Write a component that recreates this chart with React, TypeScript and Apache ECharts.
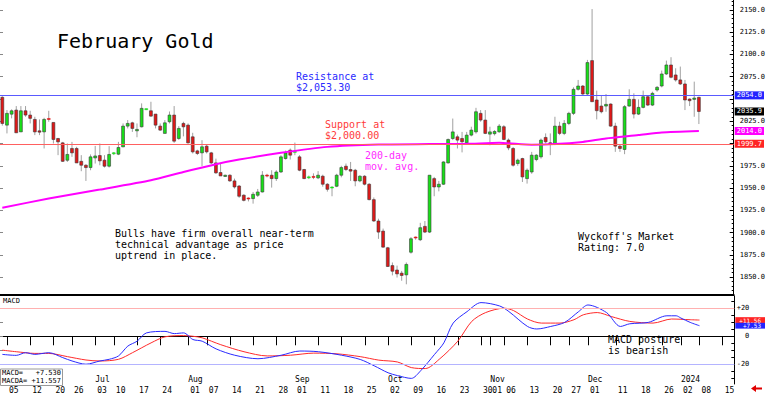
import React, { useEffect, useRef } from 'react';
import * as echarts from 'echarts';

const FONT = '"DejaVu Sans Mono", monospace';

const HOLIDAYS = ['2023-06-19', '2023-07-04', '2023-09-04', '2023-11-23', '2023-12-25', '2024-01-01'];

function buildDates(): string[] {
  const out: string[] = [];
  const d = new Date(Date.UTC(2023, 5, 2));
  const end = Date.UTC(2024, 0, 17);
  while (d.getTime() <= end) {
    const wd = d.getUTCDay();
    const s = d.toISOString().slice(0, 10);
    if (wd !== 0 && wd !== 6 && HOLIDAYS.indexOf(s) < 0) out.push(s);
    d.setUTCDate(d.getUTCDate() + 1);
  }
  return out;
}
const dates = buildDates();

const dayLabels = [
  '2023-06-05', '2023-06-12', '2023-06-20', '2023-06-26', '2023-07-03', '2023-07-10', '2023-07-17', '2023-07-24',
  '2023-08-01', '2023-08-07', '2023-08-14', '2023-08-21', '2023-08-28', '2023-09-01', '2023-09-11', '2023-09-18',
  '2023-09-25', '2023-10-02', '2023-10-09', '2023-10-16', '2023-10-23', '2023-10-30', '2023-11-01', '2023-11-06',
  '2023-11-13', '2023-11-20', '2023-11-27', '2023-12-01', '2023-12-11', '2023-12-18', '2023-12-26', '2024-01-02',
  '2024-01-08', '2024-01-15',
];
const monthLabels: Record<string, string> = {
  '2023-07-03': 'Jul', '2023-08-01': 'Aug', '2023-09-01': 'Sep', '2023-10-02': 'Oct',
  '2023-11-01': 'Nov', '2023-12-01': 'Dec', '2024-01-02': '2024',
};

const opens = [
  2051.8, 2020.6, 2032.9, 2037.5, 2013.0, 2036.7, 2031.9, 2027.0, 2014.2, 2013.0,
  2027.5, 2023.6, 2005.6, 2000.7, 1981.2, 1994.4, 1994.4, 1980.0, 1975.6, 1973.0,
  1983.8, 1986.5, 1981.3, 1974.5, 1988.5, 1988.0, 1996.2, 2019.5, 2023.2, 2014.2,
  2018.7, 2038.0, 2036.7, 2033.0, 2019.5, 2011.3, 2024.4, 2031.9, 2005.6, 2022.5,
  2020.6, 2007.5, 1991.7, 1989.5, 1997.0, 1989.5, 1978.2, 1967.4, 1963.0, 1964.4,
  1958.0, 1952.3, 1942.0, 1938.3, 1938.2, 1941.9, 1945.6, 1964.0, 1964.4, 1960.6,
  1968.0, 1983.1, 1992.5, 1990.0, 1985.0, 1970.8, 1961.4, 1962.5, 1961.4, 1963.3,
  1954.3, 1950.0, 1952.0, 1964.4, 1974.5, 1970.8, 1970.0, 1958.0, 1963.3, 1954.3,
  1937.0, 1913.0, 1901.7, 1883.0, 1863.0, 1858.0, 1854.5, 1852.6, 1878.0, 1894.5,
  1892.0, 1907.0, 1900.6, 1960.6, 1951.2, 1954.3, 1978.2, 2005.6, 2007.5, 2005.6,
  2000.8, 2009.4, 2013.0, 2033.8, 2026.3, 2010.5, 2011.0, 2013.1, 2018.8, 2003.8,
  1994.4, 1977.5, 1983.1, 1960.6, 1968.0, 1982.0, 1985.0, 2006.8, 2000.8, 1998.9,
  2019.5, 2011.3, 2022.5, 2033.8, 2060.8, 2064.5, 2055.5, 2093.0, 2048.8, 2042.0,
  2042.0, 2044.3, 2019.5, 1997.0, 1993.3, 2042.0, 2049.5, 2033.0, 2040.5, 2052.5,
  2043.1, 2060.0, 2064.5, 2078.0, 2088.1, 2076.9, 2071.3, 2066.8, 2049.9, 2049.5,
  2051.8,
];
const closes = [
  2022.5, 2033.8, 2036.7, 2012.0, 2036.7, 2031.9, 2028.2, 2013.0, 2012.7, 2027.0,
  2026.5, 2004.5, 2001.8, 1980.0, 1987.7, 1989.5, 1978.2, 1975.6, 1973.0, 1985.0,
  1986.0, 1980.5, 1974.5, 1987.7, 1989.0, 1995.5, 2019.5, 2022.5, 2016.9, 2015.8,
  2039.4, 2038.5, 2030.7, 2020.6, 2015.0, 2023.2, 2031.9, 2002.6, 2016.9, 2018.7,
  2000.7, 1990.6, 1988.8, 1996.3, 1990.6, 1978.2, 1967.0, 1963.6, 1964.4, 1958.0,
  1951.2, 1940.8, 1936.2, 1937.7, 1943.0, 1945.6, 1964.4, 1963.6, 1960.6, 1968.0,
  1985.0, 1989.5, 1986.9, 1990.6, 1970.0, 1960.6, 1962.0, 1962.0, 1964.4, 1954.3,
  1948.6, 1950.6, 1964.4, 1973.0, 1970.8, 1969.0, 1958.0, 1963.3, 1954.3, 1937.0,
  1913.0, 1900.6, 1883.7, 1862.0, 1856.7, 1853.7, 1851.9, 1864.3, 1893.1, 1894.0,
  1905.5, 1900.6, 1964.4, 1951.2, 1954.3, 1979.3, 2004.5, 2013.0, 2003.8, 2001.9,
  2009.4, 2015.0, 2035.6, 2026.3, 2011.3, 2013.0, 2013.5, 2019.5, 2004.5, 1995.1,
  1975.6, 1981.3, 1962.5, 1970.0, 1986.9, 1986.9, 2003.8, 2001.9, 1999.3, 2019.5,
  2011.3, 2022.5, 2033.8, 2060.8, 2064.5, 2055.5, 2090.8, 2046.9, 2036.8, 2035.6,
  2043.9, 2019.5, 1997.0, 1994.4, 2041.3, 2049.5, 2033.0, 2040.5, 2052.5, 2043.1,
  2056.3, 2063.0, 2078.0, 2088.1, 2074.3, 2071.3, 2066.8, 2048.8, 2048.0, 2051.0,
  2035.9,
];
const lows = [
  2020.0, 2011.3, 2028.2, 2012.0, 2013.0, 2030.0, 2022.5, 2009.4, 2009.4, 1994.4,
  2024.4, 2000.0, 1986.9, 1979.3, 1979.3, 1985.0, 1978.2, 1968.9, 1958.0, 1970.0,
  1977.5, 1975.6, 1973.0, 1973.0, 1987.0, 1986.9, 1996.0, 2016.9, 2013.0, 2007.0,
  2018.0, 2037.5, 2030.0, 2016.9, 2014.2, 2011.3, 2022.5, 2000.7, 2004.0, 2008.0,
  2000.0, 1988.8, 1987.0, 1974.5, 1988.8, 1977.0, 1966.0, 1963.6, 1962.6, 1957.0,
  1949.4, 1939.0, 1935.0, 1935.0, 1932.5, 1940.0, 1945.0, 1962.0, 1950.5, 1958.0,
  1967.0, 1982.0, 1982.0, 1986.9, 1968.9, 1960.0, 1960.0, 1960.0, 1960.0, 1951.5,
  1946.0, 1940.8, 1951.0, 1962.0, 1969.0, 1958.0, 1952.0, 1956.5, 1953.0, 1936.2,
  1912.0, 1893.0, 1883.0, 1861.4, 1852.0, 1849.6, 1846.0, 1842.0, 1876.4, 1892.0,
  1890.5, 1899.5, 1899.5, 1940.8, 1946.3, 1953.5, 1977.5, 2003.8, 1994.4, 1990.0,
  1999.0, 2008.0, 2011.0, 2024.4, 2010.5, 1998.0, 2009.0, 2012.0, 2003.8, 1992.5,
  1974.0, 1975.0, 1956.8, 1955.0, 1966.0, 1980.0, 1983.0, 2000.0, 1986.9, 1998.1,
  2009.4, 2009.4, 2020.6, 2031.9, 2059.3, 2054.4, 2054.4, 2046.9, 2027.0, 2033.8,
  2035.6, 2018.8, 1990.6, 1990.6, 1988.0, 2041.3, 2028.1, 2031.9, 2039.4, 2042.0,
  2042.0, 2058.1, 2063.0, 2076.9, 2073.1, 2069.4, 2065.6, 2037.5, 2042.0, 2030.0,
  2021.8,
];
const highs = [
  2053.0, 2037.5, 2038.3, 2042.0, 2042.0, 2042.0, 2036.7, 2030.0, 2027.0, 2028.8,
  2036.7, 2023.6, 2006.3, 2001.8, 2000.0, 2001.8, 1996.3, 1986.9, 1976.8, 1987.7,
  1997.3, 2000.0, 1986.9, 1997.0, 1990.5, 2001.8, 2022.5, 2026.3, 2024.4, 2022.5,
  2045.0, 2039.0, 2046.8, 2033.0, 2022.5, 2026.3, 2035.9, 2042.0, 2019.5, 2024.4,
  2022.5, 2012.0, 1993.0, 2003.7, 1998.9, 1990.6, 1983.0, 1977.5, 1965.0, 1965.5,
  1960.6, 1953.4, 1943.0, 1939.5, 1945.6, 1949.0, 1969.0, 1966.0, 1970.0, 1970.0,
  1986.9, 1992.0, 1994.4, 2001.0, 1986.9, 1971.5, 1964.0, 1966.5, 1969.0, 1965.0,
  1955.5, 1952.0, 1966.0, 1975.0, 1977.5, 1979.3, 1971.5, 1964.4, 1964.4, 1955.5,
  1939.4, 1915.6, 1904.5, 1884.0, 1866.5, 1863.0, 1857.0, 1866.5, 1895.0, 1895.6,
  1911.0, 1913.0, 1964.4, 1962.5, 1958.0, 1980.0, 2005.6, 2028.0, 2010.0, 2013.0,
  2013.0, 2018.8, 2040.0, 2037.5, 2037.5, 2018.8, 2015.0, 2021.8, 2020.6, 2005.6,
  1996.0, 1983.0, 1984.0, 1972.0, 1990.6, 1988.0, 2005.6, 2011.3, 2011.3, 2030.0,
  2024.4, 2026.3, 2035.6, 2063.0, 2071.3, 2065.6, 2093.8, 2150.8, 2059.3, 2054.4,
  2055.5, 2045.0, 2023.3, 1999.3, 2043.1, 2060.8, 2056.3, 2049.5, 2059.3, 2054.4,
  2058.1, 2064.5, 2081.8, 2093.0, 2096.8, 2084.4, 2086.3, 2071.3, 2050.6, 2069.4,
  2052.5,
];

// 200-day moving average, [candle index, value]
const ma200 = [
  [0, 1928.0], [10, 1938.2], [21, 1948.3], [32, 1958.8], [39, 1968.1], [46, 1976.8], [51, 1982.0],
  [60, 1989.5], [70, 1996.2], [81, 1998.9], [92, 1999.3], [100, 1999.6], [107, 2000.7], [114, 1998.7],
  [119, 1999.3], [125, 2001.8], [130, 2005.6], [137, 2009.4], [142, 2012.4], [150, 2014.0],
];

// MACD (blue) and its average (red), [candle index, value]
const macdLine = [
  [0, -12.9], [3, -13.6], [5, -11.7], [7, -12.9], [10, -11.7], [13, -15.2], [15, -17.6], [18, -19.9],
  [21, -17.6], [23, -16.4], [25, -14.0], [27, -7.0], [29, -3.5], [31, 2.4], [35, 3.5], [37, 1.9],
  [39, 2.4], [41, -2.3], [43, -3.5], [46, -9.0], [50, -13.5], [55, -16.0], [60, -13.5], [64, -10.5],
  [68, -11.0], [73, -13.5], [77, -16.5], [80, -21.0], [83, -26.0], [85, -28.0], [88, -30.0], [90, -24.6],
  [93, -12.9], [95, -4.7], [97, 9.4], [100, 17.6], [103, 24.0], [107, 21.6], [109, 17.6], [113, 7.0],
  [115, 5.2], [118, 7.0], [121, 9.9], [124, 17.6], [126, 22.3], [130, 16.9], [133, 7.0], [135, 8.9],
  [139, 9.9], [143, 14.6], [145, 14.6], [146, 13.0], [148, 9.9], [150, 7.53],
];
const macdAvg = [
  [0, -9.9], [3, -11.0], [7, -12.2], [10, -12.2], [14, -14.5], [18, -16.9], [21, -17.6], [25, -16.4],
  [28, -11.7], [32, -4.7], [35, -0.4], [39, 0.5], [41, 0.0], [43, -1.1], [47, -6.0], [52, -11.0],
  [57, -14.0], [62, -13.5], [67, -12.0], [72, -12.5], [77, -14.5], [81, -17.0], [85, -18.3], [88, -22.3],
  [91, -23.0], [94, -16.4], [98, -3.5], [101, 10.6], [104, 16.9], [108, 20.0], [110, 18.3], [113, 12.3],
  [116, 9.4], [120, 9.4], [123, 11.8], [125, 15.3], [128, 16.9], [131, 14.1], [135, 10.6], [140, 9.4],
  [144, 12.3], [148, 11.8], [150, 11.56],
];

const resistance = 2054.0;
const support = 1999.7;
const priceTicks = [1850, 1875, 1900, 1925, 1950, 1975, 2000, 2025, 2050, 2075, 2100, 2125, 2150];
const priceLabels = [1850, 1875, 1900, 1925, 1950, 1975, 2025, 2075, 2100, 2125, 2150];
const priceMinor: number[] = [];
for (let v = 1835; v <= 2160; v += 5) priceMinor.push(v);
const macdTicks = [-20, 0, 20];
const macdMinor: number[] = [];
for (let v = -30; v <= 25; v += 5) macdMinor.push(v);

const priceTagValues = [resistance, closes[closes.length - 1], 2014.0, support];
const priceTagColors = ['#2424ff', '#000000', '#ff00ff', '#ff2424'];
const macdTagValues = [11.557, 7.53];
const macdTagColors = ['#ff2424', '#2424ff'];

export default function App() {
  const ref = useRef<HTMLDivElement>(null);
  useEffect(() => {
    if (!ref.current) return;
    const chart = echarts.init(ref.current, null, { renderer: 'svg' });
    const candleData = opens.map((o, i) => [i, o, closes[i], lows[i], highs[i]]);
    const dayInterval = (_i: number, v: string) => dayLabels.indexOf(v) >= 0;
    const monthInterval = (_i: number, v: string) => !!monthLabels[v];

    const tagAxis = (grid: number, min: number, max: number, value: number, color: string, text: string,
      fs: number, lh: number, pad: number[]) => ({
      type: 'value', gridIndex: grid, position: 'right', min, max,
      axisLine: { show: false }, axisTick: { show: false }, splitLine: { show: false },
      axisLabel: {
        show: true, customValues: [value], margin: 1, formatter: () => text,
        backgroundColor: color, color: '#fff', padding: pad, lineHeight: lh, fontSize: fs, fontFamily: FONT,
      },
    });

    const yAxes: any[] = [
      {
        type: 'value', gridIndex: 0, position: 'right', min: 1830, max: 2161,
        axisLine: { show: true, lineStyle: { color: '#000' } },
        axisTick: { show: true, inside: true, length: 4, customValues: priceTicks, lineStyle: { color: '#000' } },
        axisLabel: {
          show: true, customValues: priceLabels, formatter: (v: number) => v.toFixed(1),
          margin: 6, fontSize: 7, fontFamily: FONT, color: '#000',
        },
        splitLine: { show: false },
      },
      {
        type: 'value', gridIndex: 0, position: 'right', min: 1830, max: 2161,
        axisLine: { show: false },
        axisTick: { show: true, inside: true, length: 2, customValues: priceMinor, lineStyle: { color: '#000' } },
        axisLabel: { show: false }, splitLine: { show: false },
      },
      {
        type: 'value', gridIndex: 0, position: 'left', min: 1830, max: 2161,
        axisLine: { show: false },
        axisTick: { show: true, inside: true, length: 3, customValues: priceTicks, lineStyle: { color: '#888' } },
        axisLabel: { show: false }, splitLine: { show: false },
      },
      {
        type: 'value', gridIndex: 1, position: 'right', min: -34, max: 28.7,
        axisLine: { show: true, lineStyle: { color: '#000' } },
        axisTick: { show: true, inside: true, length: 3, customValues: macdMinor, lineStyle: { color: '#000' } },
        axisLabel: {
          show: true, customValues: macdTicks, align: 'right', margin: 15,
          formatter: (v: number) => (v > 0 ? '+' + v : '' + v),
          fontSize: 7, fontFamily: FONT, color: '#000',
        },
        splitLine: { show: false },
      },
      {
        type: 'value', gridIndex: 1, position: 'left', min: -34, max: 28.7,
        axisLine: { show: false },
        axisTick: { show: true, inside: true, length: 3, customValues: [-30, -20, -10, 0, 10, 20], lineStyle: { color: '#888' } },
        axisLabel: { show: false }, splitLine: { show: false },
      },
    ];
    priceTagValues.forEach((v, k) => {
      yAxes.push(tagAxis(0, 1830, 2161, v, priceTagColors[k], v.toFixed(1).padStart(6, ' '), 7, 7, [1, 2, 0, 2]));
    });
    macdTagValues.forEach((v, k) => {
      yAxes.push(tagAxis(1, -34, 28.7, v, macdTagColors[k], ('+' + v.toFixed(2)).padStart(6, ' '), 6, 5.8, [0, 4, 0, 4]));
    });

    const option: any = {
      animation: false,
      backgroundColor: '#ffffff',
      grid: [
        { left: 0, top: 0, width: 735, height: 295 },
        { left: 0, top: 296, width: 735, height: 89 },
      ],
      xAxis: [
        {
          type: 'category', gridIndex: 0, data: dates, boundaryGap: true,
          axisLine: { show: true, lineStyle: { color: '#000', width: 2 } },
          axisTick: { show: false }, axisLabel: { show: false }, splitLine: { show: false },
        },
        {
          type: 'category', gridIndex: 1, data: dates, boundaryGap: true, position: 'bottom',
          axisLine: { show: true, lineStyle: { color: '#000', width: 1 } },
          axisTick: { show: true, alignWithLabel: true, interval: dayInterval, length: 9, lineStyle: { color: '#000' } },
          axisLabel: {
            show: true, interval: dayInterval, formatter: (v: string) => v.slice(8, 10),
            align: 'left', margin: 2, padding: [0, 0, 0, 2], fontSize: 8, fontFamily: FONT, color: '#000',
          },
          splitLine: { show: false },
        },
        {
          type: 'category', gridIndex: 1, data: dates, boundaryGap: true, position: 'bottom',
          axisLine: { show: false }, axisTick: { show: false },
          axisLabel: {
            show: true, inside: true, interval: monthInterval, formatter: (v: string) => monthLabels[v] || '',
            align: 'left', margin: 1, fontSize: 8, fontFamily: FONT, color: '#000',
          },
          splitLine: { show: false },
        },
      ],
      yAxis: yAxes,
      series: [
        {
          type: 'line', xAxisIndex: 0, yAxisIndex: 0, data: [], silent: true,
          markLine: {
            silent: true, symbol: 'none', label: { show: false },
            data: [
              { yAxis: resistance, lineStyle: { color: '#5a5aff', width: 1, type: 'solid' } },
              { yAxis: support, lineStyle: { color: '#ff6060', width: 1, type: 'solid' } },
            ],
          },
        },
        {
          type: 'custom', xAxisIndex: 0, yAxisIndex: 0, data: candleData,
          encode: { x: 0, y: [1, 2, 3, 4] },
          renderItem: (_p: any, api: any) => {
            const idx = api.value(0);
            const o = api.value(1), c = api.value(2), l = api.value(3), h = api.value(4);
            const po = api.coord([idx, o]);
            const pc = api.coord([idx, c]);
            const pl = api.coord([idx, l]);
            const ph = api.coord([idx, h]);
            const band = api.size([1, 0])[0];
            const w = Math.max(2, band * 0.62);
            const x = po[0];
            const top = Math.min(po[1], pc[1]);
            const hh = Math.abs(po[1] - pc[1]);
            const up = c >= o;
            const fill = up ? '#18e018' : '#e01818';
            return {
              type: 'group',
              children: [
                { type: 'line', shape: { x1: x, y1: ph[1], x2: x, y2: pl[1] }, style: { stroke: '#a0a0a0', lineWidth: 1 } },
                {
                  type: 'rect',
                  shape: { x: x - w / 2, y: hh < 1.2 ? top - 0.5 : top, width: w, height: Math.max(hh, 1) },
                  style: { fill, stroke: hh < 1.2 ? fill : '#383838', lineWidth: 0.6 },
                },
              ],
            };
          },
        },
        {
          type: 'line', xAxisIndex: 0, yAxisIndex: 0, data: ma200, showSymbol: false, symbol: 'none',
          lineStyle: { color: '#ff00ff', width: 2 }, silent: true, smooth: 0.2,
        },
        {
          type: 'line', xAxisIndex: 1, yAxisIndex: 3, data: macdAvg, showSymbol: false, symbol: 'none',
          lineStyle: { color: '#ff2a2a', width: 1 }, silent: true, smooth: 0.3,
          markLine: {
            silent: true, symbol: 'none', label: { show: false },
            data: [
              { yAxis: 20, lineStyle: { color: '#ffb0b0', width: 1, type: 'solid' } },
              { yAxis: -20, lineStyle: { color: '#b4b4ff', width: 1, type: 'solid' } },
            ],
          },
        },
        {
          type: 'line', xAxisIndex: 1, yAxisIndex: 3, data: macdLine, showSymbol: false, symbol: 'none',
          lineStyle: { color: '#2a2aff', width: 1 }, silent: true, smooth: 0.3,
        },
      ],
      graphic: [
        { type: 'text', left: 57, top: 31, style: { text: 'February Gold', fill: '#000', fontSize: 20, fontFamily: FONT } },
        { type: 'text', left: 296, top: 71, style: { text: 'Resistance at\n$2,053.30', fill: '#2a2aff', fontSize: 10, fontFamily: FONT, lineHeight: 11 } },
        { type: 'text', left: 325, top: 118.5, style: { text: 'Support at\n$2,000.00', fill: '#ff3a3a', fontSize: 10, fontFamily: FONT, lineHeight: 11 } },
        { type: 'text', left: 365, top: 150, style: { text: '200-day\nmov. avg.', fill: '#ff2aff', fontSize: 10, fontFamily: FONT, lineHeight: 11 } },
        { type: 'text', left: 115, top: 227.5, style: { text: 'Bulls have firm overall near-term\ntechnical advantage as price\nuptrend in place.', fill: '#000', fontSize: 10, fontFamily: FONT, lineHeight: 11 } },
        { type: 'text', left: 578, top: 231, style: { text: "Wyckoff's Market\nRating: 7.0", fill: '#000', fontSize: 10, fontFamily: FONT, lineHeight: 11 } },
        { type: 'text', left: 608, top: 333.5, style: { text: 'MACD posture\nis bearish', fill: '#000', fontSize: 10, fontFamily: FONT, lineHeight: 11 } },
        { type: 'text', left: 3, top: 297, style: { text: 'MACD', fill: '#000', fontSize: 7, fontFamily: FONT } },
        { type: 'rect', left: 0, top: 368.5, shape: { width: 62, height: 16.5 }, style: { fill: '#fff', stroke: '#999', lineWidth: 1 }, z: 10 },
        { type: 'text', left: 2, top: 369, z: 11, style: { text: 'MACD=   +7.530\nMACDA= +11.557', fill: '#000', fontSize: 7, fontFamily: FONT, lineHeight: 7.8 } },
        {
          type: 'polygon', z: 10,
          shape: { points: [[751, 388.5], [756, 385], [756, 387.5], [762, 387.5], [762, 389.5], [756, 389.5], [756, 392]] },
          style: { fill: '#e00000' },
        },
      ],
    };
    chart.setOption(option);
    return () => chart.dispose();
  }, []);
  return (
    <div
      ref={ref}
      style={{ position: 'fixed', left: 0, top: 0, width: 768, height: 394, background: '#fff' }}
    />
  );
}
